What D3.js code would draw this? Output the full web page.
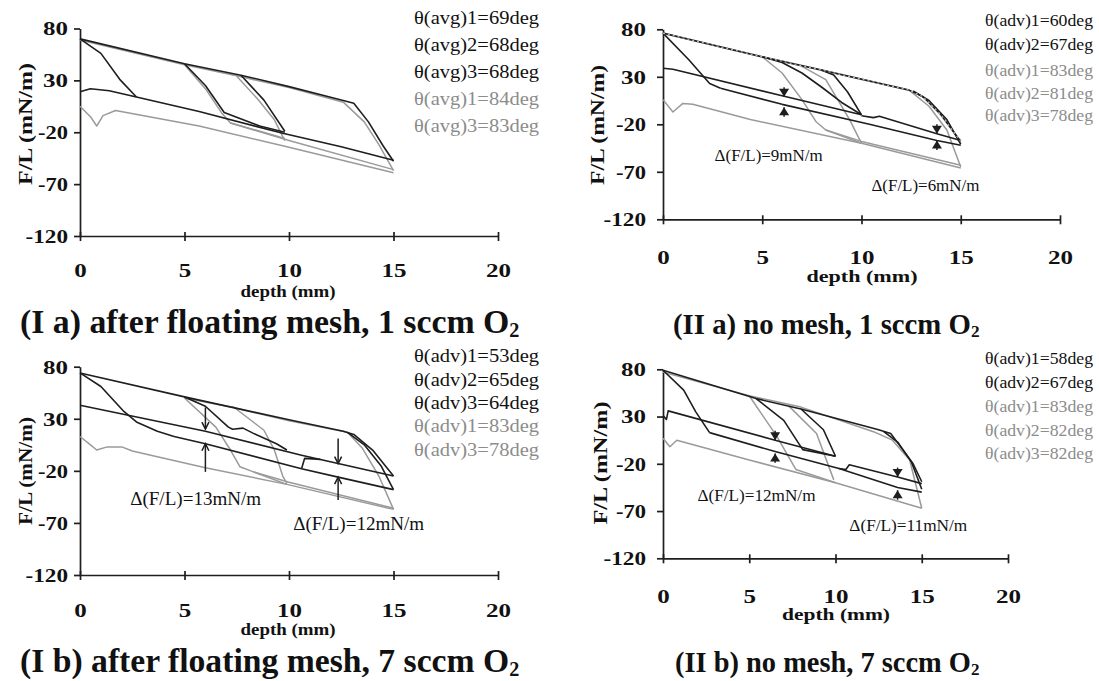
<!DOCTYPE html>
<html><head><meta charset="utf-8">
<script src="https://cdnjs.cloudflare.com/ajax/libs/d3/7.8.5/d3.min.js"></script>
<style>body{margin:0;background:#fff}svg{display:block}</style>
</head><body>
<svg id="c" width="1099" height="681"></svg>
<script>
// ---------------- DATA ----------------
const xTicks = [0, 5, 10, 15, 20];
const yTicks = [80, 30, -20, -70, -120];

// Panel I a
const iaLegend = ["θ(avg)1=69deg","θ(avg)2=68deg","θ(avg)3=68deg","θ(avg)1=84deg","θ(avg)3=83deg"];
const iaLegendDark = [true,true,true,false,false];
const iaBlackTop = [[0,70],[5,46],[7.7,35],[10,24],[12.5,11],[13.1,8],[13.8,-10],[14.5,-33],[15,-48]];
const iaGrayTop = [[0,69],[5,45],[7.6,34],[10,23],[12.6,9],[13.6,-10],[14.3,-32],[15,-57]];
const iaBlackRec0 = [[0,70],[1,56],[1.9,31],[2.7,14]];
const iaBlackLow = [[0,19],[0.5,22],[1.4,20],[2.7,14],[5.7,0],[9.7,-21],[12.5,-34],[15,-47]];
const iaBlackRec5 = [[5,46],[6,25],[6.9,-1],[8.6,-14],[9.8,-20]];
const iaBlackRec8 = [[7.7,35],[8.8,11],[9.8,-19]];
const iaGrayRec5 = [[5,45],[6,22],[6.8,-2],[7.2,-11],[9.8,-26]];
const iaGrayRec8 = [[7.5,34],[8.5,12],[9.3,-8],[9.8,-28]];
const iaGrayLow = [[0,5],[0.5,-5],[0.8,-14],[1.1,-4],[1.7,1],[5.7,-14],[9.9,-34],[15,-59]];
const iaGrayLow2 = [[7.2,-11],[10,-28],[15,-56]];

// Panel II a
const iiaLegend = ["θ(adv)1=60deg","θ(adv)2=67deg","θ(adv)1=83deg","θ(adv)2=81deg","θ(adv)3=78deg"];
const iiaLegendDark = [true,true,false,false,false];
const iiaBlackTop = [[0,76],[5,51],[8,37],[12.4,16],[13.1,9],[14,-10],[15,-38]];
const iiaBlackTop2 = [[12.6,15],[13.4,5],[14.3,-15],[15,-41]];
const iiaBlackRec0 = [[0,76],[1.3,48],[2.35,23],[2.9,18]];
const iiaBlackUp = [[0,39],[0.5,38],[6,10],[10,-10]];
const iiaBlackUp2 = [[10,-11],[10.6,-13],[10.9,-11.5],[13.8,-30],[15,-37]];
const iiaBlackLow = [[2.9,18],[6,1],[10.4,-20],[13.8,-37],[15,-42]];
const iiaBlackRec5 = [[5,51],[6,45],[7,34],[8,19],[9,3],[10,-10]];
const iiaBlackRec8 = [[8,37],[8.6,32],[9.3,14],[10,-10]];
const iiaGrayRec5 = [[5,51],[6,34],[7,6],[7.7,-17],[8.2,-26],[10,-40]];
const iiaGrayRec7 = [[7,41],[8.2,27],[9.4,-15],[10,-40]];
const iiaGrayRec12 = [[12.4,16],[13.4,-1],[14.3,-26],[15,-65]];
const iiaGrayLow = [[0,6],[0.5,-7],[1,2],[1.5,1],[4.4,-15],[10,-40],[15,-66]];
const iiaGrayLow2 = [[8.2,-26],[10,-38],[15,-63]];
const iiaArrowsDown = [[6.1,19,9],[13.8,-20,-30]];
const iiaArrowsUp = [[6.1,-12,-2],[13.8,-47,-37]];
const iiaNotes = [["Δ(F/L)=9mN/m",2.6,-52],["Δ(F/L)=6mN/m",10.5,-84]];

// Panel I b
const ibLegend = ["θ(adv)1=53deg","θ(adv)2=65deg","θ(adv)3=64deg","θ(adv)1=83deg","θ(adv)3=78deg"];
const ibLegendDark = [true,true,true,false,false];
const ibBlackTop = [[0,74],[5,51],[10,29],[12.6,18],[13.1,15],[14,0],[15,-25]];
const ibBlackTop2 = [[12.8,17],[13.6,5],[14.4,-15],[15,-38]];
const ibBlackRec0 = [[0,74],[1,61],[2.1,37],[2.7,27],[3.7,18],[4.5,13]];
const ibBlackUp = [[0,43],[6,18],[10.6,-5],[12.35,-13],[15,-25]];
const ibBlackLow = [[4.5,13],[6,6],[10.6,-18],[12.35,-26],[15,-38]];
const ibBlackStep = [[10.6,-18],[10.75,-8],[11.5,-9]];
const ibBlackRec5 = [[5,51],[6,42],[7.1,22],[7.3,20],[7.8,21],[8.3,16],[9.4,6],[9.9,0]];
const ibGrayTop = [[5,50],[7.3,41],[10,28],[12.8,17],[13.5,2],[14.3,-25],[15,-57]];
const ibGrayRec5 = [[5,50],[6.5,22],[7.2,0],[7.65,-16],[8.3,-21],[9.9,-33]];
const ibGrayRec7 = [[7.3,42],[8.8,19],[9.3,0],[9.7,-25],[9.9,-32]];
const ibGrayLow = [[0,13],[0.5,5],[0.8,0],[1.3,3],[2,3],[2.5,-1],[6,-17],[9.9,-33],[15,-57]];
const ibGrayLow2 = [[8.3,-21],[10,-31],[15,-56]];
const ibArrowsDown = [[6,41,20],[12.35,11,-13]];
const ibArrowsUp = [[6,-21,6],[12.35,-48,-26]];
const ibNotes = [["Δ(F/L)=13mN/m",2.4,-46],["Δ(F/L)=12mN/m",10.2,-70]];

// Panel II b
const iibLegend = ["θ(adv)1=58deg","θ(adv)2=67deg","θ(adv)1=83deg","θ(adv)2=82deg","θ(adv)3=82deg"];
const iibLegendDark = [true,true,false,false,false];
const iibBlackTop = [[0,79],[5.4,49],[8,38],[12.5,16],[13.2,12],[13.9,-5],[14.5,-20],[15,-39]];
const iibBlackTop2 = [[12.8,14],[13.6,3],[14.4,-18],[15,-47]];
const iibGrayTop = [[0,77],[5,52],[8,40],[12.2,14],[13.3,5],[14.3,-16],[15,-67]];
const iibBlackRec0 = [[0,79],[1.2,58],[1.9,35],[2.7,13]];
const iibBlackUp = [[0,31],[0.2,27],[0.3,36],[6.5,5],[10,-12]];
const iibBlackUp2 = [[10.2,-25],[10.6,-26],[10.8,-21],[13.6,-34],[15,-41]];
const iibBlackLow = [[2.7,13],[6.5,-7],[10.2,-25],[13.6,-45],[15,-50]];
const iibBlackRec5 = [[5.4,49],[7,26],[8.1,-5],[10,-12]];
const iibBlackRec8 = [[8,38],[9.3,16],[10,-12]];
const iibGrayRec5 = [[5,52],[6.6,9],[7.7,-26],[10,-40]];
const iibGrayRec7 = [[7.3,41],[8.9,12],[9.9,-37]];
const iibGrayLow = [[0,7],[0.4,-2],[0.8,5],[5,-16],[10,-40],[15,-67]];
const iibArrowsDown = [[6.5,15,5],[13.6,-24,-34]];
const iibArrowsUp = [[6.5,-19,-9],[13.6,-58,-48]];
const iibNotes = [["Δ(F/L)=12mN/m",2.0,-53],["Δ(F/L)=11mN/m",10.8,-85]];

// ---------------- LAYOUT / STYLE ----------------
const DARK = "#1e1e1e", GRAY = "#9a9a9a";
const SERIF = "'Liberation Serif','Times New Roman',serif";
const panels = [
  { xr:[80,498], yr:[236,28.5], xLab:271, yLabOff:-12, yT:{x:25,y:124,len:122}, xT:{x:288,y:291,len:95},
    title:{parts:["(I a) after floating mesh, 1 sccm O","2"], x0:20, x1:520, base:333},
    legend:iaLegend, legDark:iaLegendDark, legX:414, legLen:125, legFs:19, legY:[17,44,71,98,125],
    dark:[iaBlackTop,iaBlackRec0,iaBlackLow,iaBlackRec5,iaBlackRec8],
    gray:[iaGrayTop,iaGrayRec5,iaGrayRec8,iaGrayLow,iaGrayLow2],
    arrowStyle:null, down:[], up:[], notes:[], noteFs:17, noteLen:108 },
  { xr:[663,1060], yr:[219.3,29.3], xLab:258, yLabOff:-17, yT:{x:597,y:125,len:120}, xT:{x:862,y:276,len:111},
    title:{parts:["(II a) no mesh, 1 sccm O","2"], x0:673, x1:980, base:334},
    legend:iiaLegend, legDark:iiaLegendDark, legX:985, legLen:108, legFs:17, legY:[20,44,70,93,115],
    dark:[iiaBlackTop,iiaBlackTop2,iiaBlackRec0,iiaBlackUp,iiaBlackUp2,iiaBlackLow,iiaBlackRec5,iiaBlackRec8],
    gray:[iiaGrayRec5,iiaGrayRec7,iiaGrayRec12,iiaGrayLow,iiaGrayLow2],
    dotted:iiaBlackTop,
    arrowStyle:"tri", down:iiaArrowsDown, up:iiaArrowsUp, notes:iiaNotes, noteFs:17, noteLen:108 },
  { xr:[80,498], yr:[575,366.7], xLab:611, yLabOff:-12, yT:{x:25,y:471,len:108}, xT:{x:288,y:629,len:95},
    title:{parts:["(I b) after floating mesh, 7 sccm O","2"], x0:20, x1:520, base:672},
    legend:ibLegend, legDark:ibLegendDark, legX:414, legLen:125, legFs:19, legY:[355,379,402,425,449],
    dark:[ibBlackTop,ibBlackTop2,ibBlackRec0,ibBlackUp,ibBlackLow,ibBlackStep,ibBlackRec5],
    gray:[ibGrayTop,ibGrayRec5,ibGrayRec7,ibGrayLow,ibGrayLow2],
    arrowStyle:"line", down:ibArrowsDown, up:ibArrowsUp, notes:ibNotes, noteFs:19, noteLen:131 },
  { xr:[663,1008], yr:[558.3,369.3], xLab:597, yLabOff:-17, yT:{x:600,y:463,len:123}, xT:{x:836,y:614,len:108},
    title:{parts:["(II b) no mesh, 7 sccm O","2"], x0:675, x1:980, base:672},
    legend:iibLegend, legDark:iibLegendDark, legX:985, legLen:108, legFs:17, legY:[358,382,406,430,453],
    dark:[iibBlackTop,iibBlackTop2,iibBlackRec0,iibBlackUp,iibBlackUp2,iibBlackLow,iibBlackRec5,iibBlackRec8],
    gray:[iibGrayTop,iibGrayRec5,iibGrayRec7,iibGrayLow],
    arrowStyle:"tri", down:iibArrowsDown, up:iibArrowsUp, notes:iibNotes, noteFs:17, noteLen:118 }
];

const svg = d3.select("#c");
const labelLen = t => { const s = String(t); return s.replace("-","").length * 12.5 + (s.includes("-") ? 5 : 0); };

panels.forEach(p => {
  const x = d3.scaleLinear().domain([0,20]).range(p.xr);
  const y = d3.scaleLinear().domain([-120,80]).range(p.yr);
  const g = svg.append("g");
  const line = d3.line().x(d => x(d[0])).y(d => y(d[1]));

  // axes
  const ya = g.append("g").attr("transform",`translate(${p.xr[0]},0)`)
    .call(d3.axisLeft(y).tickValues(yTicks).tickSize(6).tickSizeOuter(0).tickFormat(d => String(d)));
  const xa = g.append("g").attr("transform",`translate(0,${p.yr[0]})`)
    .call(d3.axisBottom(x).tickValues(xTicks).tickSize(5).tickSizeOuter(0));
  [ya, xa].forEach(a => {
    a.select(".domain").attr("stroke", DARK).attr("stroke-width", 1.7);
    a.selectAll(".tick line").attr("stroke", DARK).attr("stroke-width", 1.7);
    a.selectAll(".tick text").attr("fill", "#111").style("font-family", SERIF)
      .style("font-weight","bold").style("font-size","18px")
      .attr("textLength", d => labelLen(d)).attr("lengthAdjust","spacingAndGlyphs");
  });
  xa.selectAll(".tick line").attr("y1",-4).attr("y2",5);
  xa.selectAll(".tick text").attr("y", p.xLab - p.yr[0]).attr("dy","0.35em");
  ya.selectAll(".tick text").attr("x", p.yLabOff).attr("dy","0.35em");

  // curves
  p.gray.forEach(s => g.append("path").attr("d", line(s)).attr("fill","none")
    .attr("stroke", GRAY).attr("stroke-width", 1.5).attr("stroke-linejoin","round"));
  p.dark.forEach(s => g.append("path").attr("d", line(s)).attr("fill","none")
    .attr("stroke", DARK).attr("stroke-width", 1.6).attr("stroke-linejoin","round"));
  if (p.dotted) g.append("path").attr("d", line(p.dotted)).attr("fill","none")
    .attr("stroke","#bbb").attr("stroke-width",1.2).attr("stroke-dasharray","2,3");

  // arrows
  if (p.arrowStyle === "line") {
    [...p.down, ...p.up].forEach(a => {
      const x0 = x(a[0]), y0 = y(a[1]), y1 = y(a[2]);
      const dir = y1 > y0 ? 1 : -1;
      g.append("line").attr("x1",x0).attr("x2",x0).attr("y1",y0).attr("y2",y1)
        .attr("stroke",DARK).attr("stroke-width",1.5);
      g.append("path").attr("d",`M${x0-3.5},${y1-dir*7} L${x0},${y1} L${x0+3.5},${y1-dir*7}`)
        .attr("fill","none").attr("stroke",DARK).attr("stroke-width",1.5);
    });
  } else if (p.arrowStyle === "tri") {
    [...p.down, ...p.up].forEach(a => {
      const x0 = x(a[0]), y0 = y(a[1]), y1 = y(a[2]);
      const dir = y1 > y0 ? 1 : -1;
      g.append("line").attr("x1",x0).attr("x2",x0).attr("y1",y0).attr("y2",y1)
        .attr("stroke",DARK).attr("stroke-width",1.5);
      g.append("path").attr("d",`M${x0-5},${y1-dir*8} L${x0},${y1} L${x0+5},${y1-dir*8} Z`)
        .attr("fill",DARK);
    });
  }
  p.notes.forEach(n => g.append("text").attr("x", x(n[1])).attr("y", y(n[2])).attr("dy","0.35em")
    .attr("textLength", p.noteLen).attr("lengthAdjust","spacingAndGlyphs")
    .style("font-family",SERIF).style("font-size", p.noteFs + "px").attr("fill","#111").text(n[0]));

  // legend
  p.legend.forEach((t,i) => g.append("text").attr("x", p.legX).attr("y", p.legY[i]).attr("dy","0.35em")
    .attr("textLength", p.legLen).attr("lengthAdjust","spacingAndGlyphs")
    .style("font-family",SERIF).style("font-size", p.legFs + "px")
    .attr("fill", p.legDark[i] ? "#111" : "#8c8c8c").text(t));

  // axis titles
  g.append("text").attr("transform",`translate(${p.yT.x},${p.yT.y}) rotate(-90)`)
    .attr("text-anchor","middle").attr("dy","0.35em")
    .attr("textLength", p.yT.len).attr("lengthAdjust","spacingAndGlyphs")
    .style("font-family",SERIF).style("font-weight","bold").style("font-size","19px").attr("fill","#111")
    .text("F/L (mN/m)");
  g.append("text").attr("x", p.xT.x).attr("y", p.xT.y).attr("dy","0.35em").attr("text-anchor","middle")
    .attr("textLength", p.xT.len).attr("lengthAdjust","spacingAndGlyphs")
    .style("font-family",SERIF).style("font-weight","bold").style("font-size","17px").attr("fill","#111")
    .text("depth (mm)");

  // panel title
  const tt = g.append("text").attr("x", p.title.x0).attr("y", p.title.base)
    .style("font-family",SERIF).style("font-weight","bold").style("font-size","24px").attr("fill","#111");
  tt.append("tspan").text(p.title.parts[0]);
  tt.append("tspan").attr("dy", 3).style("font-size","15px").text(p.title.parts[1]);
  const w = tt.node().getComputedTextLength();
  const target = p.title.x1 - p.title.x0;
  const fs = 24 * target / w;
  tt.style("font-size", fs + "px");
  tt.select("tspan:nth-child(2)").style("font-size", (fs*0.6)+"px").attr("dy", fs*0.12);
});
</script>
</body></html>
